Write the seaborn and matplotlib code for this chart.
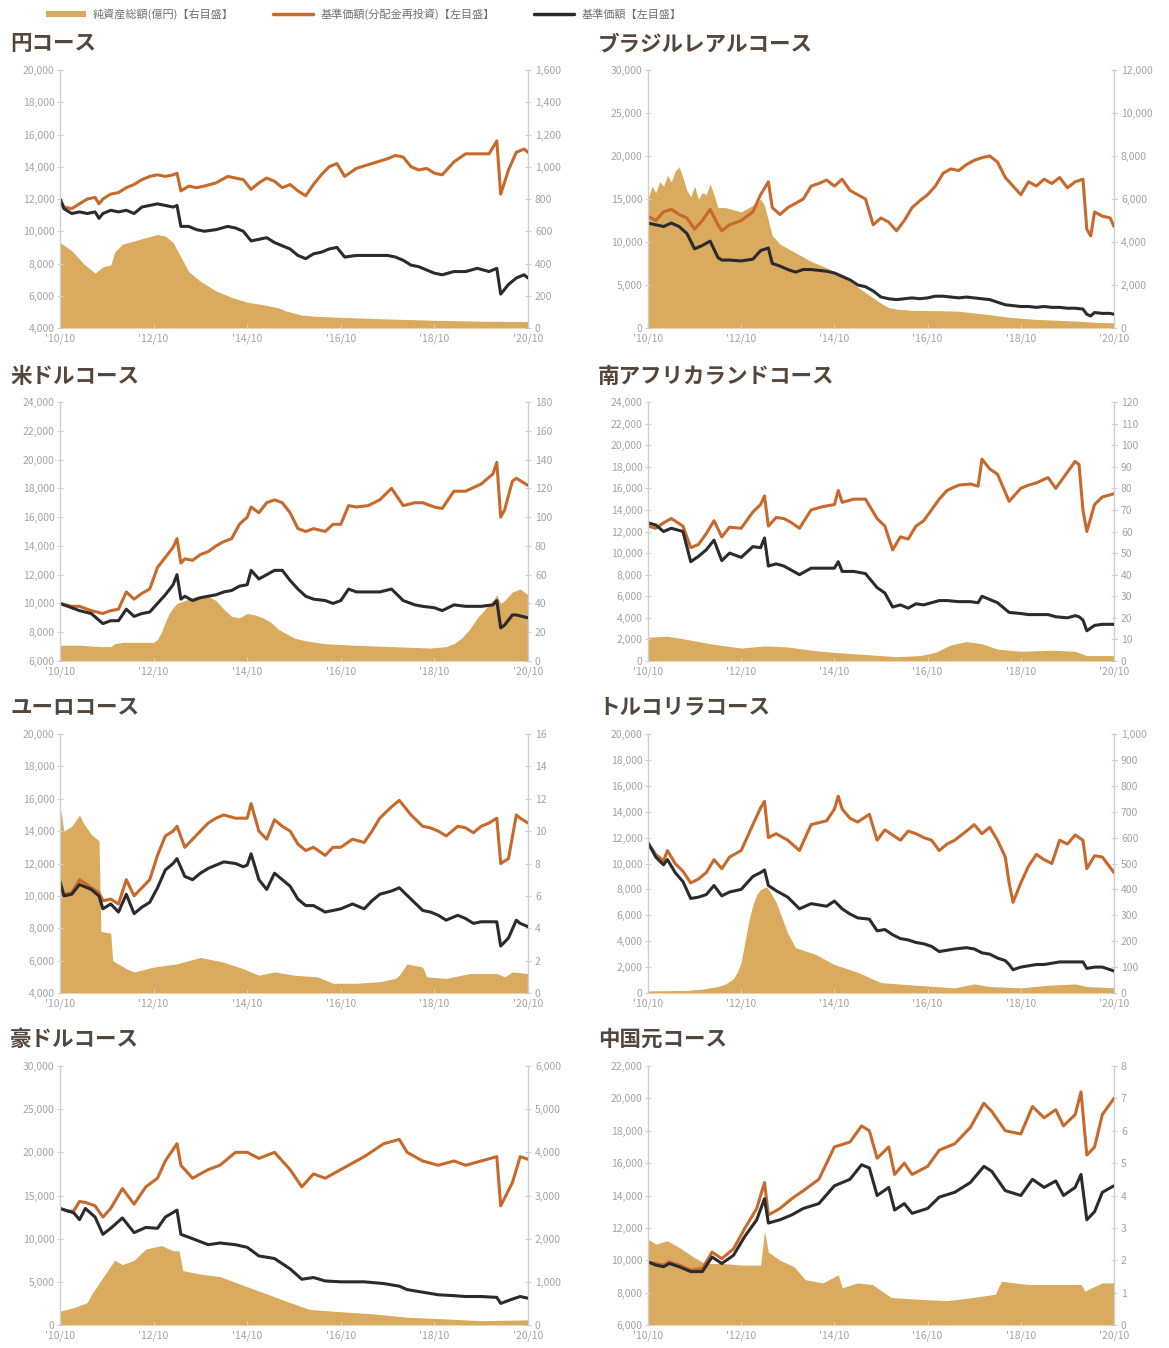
import matplotlib
matplotlib.use('Agg')
import matplotlib.pyplot as plt
import seaborn as sns
from matplotlib.ticker import FuncFormatter, MultipleLocator
from matplotlib.lines import Line2D
from matplotlib.patches import Patch

sns.set_theme(style='white')
plt.rcParams['font.family'] = ['Noto Sans CJK JP', 'DejaVu Sans']

# ---------------- data (months since 2010/10) ----------------
xtick_labels = ["'10/10", "'12/10", "'14/10", "'16/10", "'18/10", "'20/10"]
legend_labels = ['純資産総額(億円)【右目盛】', '基準価額(分配金再投資)【左目盛】', '基準価額【左目盛】']
titles = ['円コース', 'ブラジルレアルコース', '米ドルコース', '南アフリカランドコース',
          'ユーロコース', 'トルコリラコース', '豪ドルコース', '中国元コース']

# 円コース
yen_m = [0,1,3,5,7,9,10,11,13,15,17,19,21,23,25,27,29,30,31,33,35,37,40,43,45,47,49,51,53,55,57,59,61,63,65,67,69,71,73,76,80,84,86,88,90,92,94,96,98,101,104,107,110,112,113,115,117,119,120]
yen_navr = [12000,11500,11400,11700,12000,12100,11700,12000,12300,12400,12700,12900,13200,13400,13500,13400,13500,13600,12500,12800,12700,12800,13000,13400,13300,13200,12600,13000,13300,13100,12700,12900,12500,12200,12900,13500,14000,14200,13400,13900,14200,14500,14700,14600,14000,13800,13900,13600,13500,14300,14800,14800,14800,15600,12300,13800,14900,15100,14900]
yen_nav = [12000,11400,11100,11200,11100,11200,10800,11100,11300,11200,11300,11100,11500,11600,11700,11600,11500,11600,10300,10300,10100,10000,10100,10300,10200,10000,9400,9500,9600,9300,9100,8900,8500,8300,8600,8700,8900,9000,8400,8500,8500,8500,8400,8200,7900,7800,7600,7400,7300,7500,7500,7700,7500,7700,6100,6700,7100,7300,7100]
yen_aum_m = [0,3,6,9,11,13,14,16,19,22,25,27,29,31,33,36,40,44,48,52,56,58,62,66,72,84,96,108,120]
yen_aum = [530,480,400,340,380,390,470,520,540,560,580,570,530,440,350,290,230,190,160,145,125,105,80,72,66,56,48,42,40]

# ブラジルレアルコース
brl_m = [0,2,4,6,8,10,12,14,16,18,19,21,24,27,29,31,32,34,36,38,40,42,44,46,48,50,52,54,56,58,60,62,64,66,68,70,72,74,76,78,80,82,84,86,88,90,92,94,96,98,100,102,104,106,108,110,112,113,114,115,117,119,120]
brl_navr = [13000,12500,13500,13800,13200,12800,11500,12500,13800,12000,11300,12000,12500,13500,15500,17000,14000,13200,14000,14500,15000,16500,16800,17200,16500,17300,16000,15500,15000,12000,12800,12300,11300,12500,14000,14800,15500,16500,18000,18500,18300,19000,19500,19800,20000,19300,17500,16500,15500,17000,16500,17300,16800,17500,16300,17000,17300,11500,10700,13500,13000,12800,11800]
brl_nav = [12200,12000,11800,12200,11800,11000,9200,9600,10100,8200,7900,7900,7800,8000,9000,9300,7500,7200,6800,6500,6800,6800,6700,6600,6400,6000,5600,5000,4800,4300,3600,3400,3300,3400,3500,3400,3500,3700,3700,3600,3500,3600,3500,3400,3300,3000,2700,2600,2500,2500,2400,2500,2400,2400,2300,2300,2200,1600,1400,1800,1700,1700,1600]
brl_aum_m = [0,1,2,3,4,5,6,7,8,9,10,11,12,13,14,15,16,17,18,20,22,24,26,28,29,30,31,32,34,36,38,40,42,44,46,48,50,52,54,56,58,60,62,64,68,72,76,80,84,88,92,96,100,104,108,112,116,120]
brl_aum = [6000,6600,6300,6800,6600,7100,6800,7300,7500,7000,6400,6100,6600,6000,6300,6200,6700,6200,5600,5600,5500,5400,5600,5800,6000,5700,5000,4300,3900,3700,3500,3300,3100,2950,2800,2600,2400,2150,1900,1650,1400,1150,950,880,820,810,800,780,700,620,520,450,400,370,340,300,260,240]

# 米ドルコース
usd_m = [0,3,5,8,11,13,15,17,19,21,23,25,27,29,30,31,32,34,36,38,40,42,44,46,48,49,51,53,55,57,59,61,63,65,68,70,72,74,76,79,82,85,88,91,93,96,98,101,104,108,111,112,113,114,116,117,120]
usd_navr = [10000,9800,9800,9500,9300,9500,9600,10800,10300,10700,11000,12500,13200,13900,14500,12800,13100,13000,13400,13600,14000,14300,14500,15500,16000,16700,16300,17000,17200,17000,16300,15200,15000,15200,15000,15500,15500,16800,16700,16800,17200,18000,16800,17000,17000,16700,16600,17800,17800,18300,19000,19800,16000,16500,18500,18700,18200]
usd_nav = [10000,9700,9500,9300,8600,8800,8800,9600,9100,9300,9400,10000,10600,11300,12000,10300,10500,10200,10400,10500,10600,10800,10900,11200,11300,12300,11700,12000,12300,12300,11600,11000,10500,10300,10200,10000,10200,11000,10800,10800,10800,11000,10200,9900,9800,9700,9500,9900,9800,9800,9900,10200,8300,8500,9200,9200,9000]
usd_aum_m = [0,5,10,13,14,16,20,24,25,26,27,28,29,30,32,35,38,40,42,44,46,48,50,52,54,56,58,60,63,68,75,85,95,99,101,103,105,107,109,111,112,113,114,116,118,120]
usd_aum = [11,11,10,10,12,13,13,13,15,20,27,33,37,40,42,45,45,42,36,31,30,33,32,30,27,22,19,16,14,12,11,10,9,10,12,16,22,30,36,42,46,40,42,48,50,46]

# 南アフリカランドコース
zar_m = [0,2,4,6,9,11,13,15,17,19,21,24,27,29,30,31,33,35,37,39,42,45,48,49,50,53,56,59,61,63,65,67,69,71,73,75,77,80,83,85,86,88,90,93,96,98,100,103,105,108,110,111,112,113,115,117,120]
zar_navr = [12500,12300,12800,13200,12500,10500,10800,11800,13000,11500,12400,12300,13800,14500,15300,12500,13300,13200,12800,12300,14000,14300,14500,15800,14700,15000,15000,13200,12500,10300,11500,11300,12500,13000,14000,15000,15800,16300,16400,16200,18700,17800,17300,14800,16000,16300,16500,17000,16000,17500,18500,18200,14000,12000,14500,15200,15500]
zar_nav = [12800,12600,12000,12300,12000,9200,9700,10300,11200,9300,10000,9600,10600,10500,11400,8800,9000,8800,8400,8000,8600,8600,8600,9200,8300,8300,8100,6800,6300,5000,5200,4900,5300,5200,5400,5600,5600,5500,5500,5400,6000,5700,5400,4500,4400,4300,4300,4300,4100,4000,4200,4100,3800,2800,3300,3400,3400]
zar_aum_m = [0,5,10,16,24,30,36,42,48,56,64,70,74,78,82,86,90,96,104,110,113,120]
zar_aum = [11,11.5,10,8,6,7,6.5,5,4,3,2,2.5,4,7.5,9,8,5.5,4.5,5,4.5,2.5,2.5]

# ユーロコース
eur_m = [0,1,3,5,7,8,10,11,13,15,17,19,21,23,25,27,29,30,32,34,36,38,40,42,45,47,48,49,51,53,55,57,59,61,63,65,68,70,72,75,78,80,82,85,87,90,93,95,97,99,102,104,106,108,110,112,113,115,117,118,120]
eur_navr = [10800,10100,10200,11000,10700,10500,10200,9700,9800,9500,11000,10000,10500,11000,12500,13700,14000,14300,13000,13500,14000,14500,14800,15000,14800,14800,14800,15700,14000,13500,14700,14300,14000,13200,12800,13000,12500,13000,13000,13500,13300,14000,14800,15500,15900,15000,14300,14200,14000,13700,14300,14200,13900,14300,14500,14800,12000,12300,15000,14800,14500]
eur_nav = [10900,10000,10100,10700,10500,10400,10000,9200,9500,9000,10100,8900,9300,9600,10500,11600,12000,12300,11200,11000,11400,11700,11900,12100,12000,11800,11900,12600,11000,10400,11400,11000,10600,9800,9400,9400,9000,9100,9200,9500,9200,9700,10100,10300,10500,9800,9100,9000,8800,8500,8800,8600,8300,8400,8400,8400,6900,7400,8500,8300,8100]
eur_aum_m = [0,1,3,5,6,8,10,10.5,13,13.5,17,19,24,30,36,42,47,51,55,60,66,70,76,82,86,87,89,93,94,99,105,112,114,116,120]
eur_aum = [11.6,10,10.3,11,10.5,9.8,9.4,3.8,3.7,2,1.5,1.3,1.6,1.8,2.2,1.9,1.5,1.1,1.3,1.1,1.0,0.6,0.6,0.7,0.9,1.1,1.8,1.6,1.0,0.9,1.2,1.2,1.0,1.3,1.2]

# トルコリラコース
try_m = [0,2,4,5,7,9,11,13,15,17,19,21,24,27,29,30,31,33,36,39,42,46,48,49,50,52,54,57,59,61,63,65,67,69,71,73,75,77,79,82,84,86,88,90,92,93,94,96,98,100,102,104,106,108,110,112,113,115,117,120]
try_navr = [11600,10700,10200,11000,10000,9400,8500,8800,9300,10300,9600,10500,11000,13000,14300,14800,12000,12300,11800,11000,13000,13300,14200,15200,14200,13500,13200,13800,11800,12600,12200,11800,12500,12300,12000,11800,11000,11500,11800,12500,13000,12300,12800,11800,10500,8500,7000,8500,9800,10700,10300,10000,11800,11500,12200,11800,9600,10600,10500,9300]
try_nav = [11600,10500,9900,10300,9300,8600,7300,7400,7600,8300,7500,7800,8000,9000,9300,9500,8300,7900,7400,6500,6900,6700,7100,6800,6500,6100,5800,5700,4800,4900,4500,4200,4100,3900,3800,3600,3200,3300,3400,3500,3400,3100,3000,2700,2500,2200,1800,2000,2100,2200,2200,2300,2400,2400,2400,2400,1900,2000,2000,1700]
try_aum_m = [0,10,14,18,20,22,23,24,25,26,27,28,29,30.5,31.5,33,36,38,40,43,48,54,60,69,79,84,88,96,103,110,113,120]
try_aum = [8,10,15,25,35,55,80,120,200,280,340,380,400,410,390,350,230,175,165,150,110,80,40,30,20,35,25,20,30,35,25,20]

# 豪ドルコース
aud_m = [0,2,3.5,5,6.5,9,11,13,16,19,22,25,27,30,31,34,38,41,45,48,51,55,59,62,65,68,72,78,83,87,89,93,97,101,104,108,112,113,116,118,120]
aud_navr = [13500,13200,13200,14300,14200,13800,12500,13500,15800,14000,16000,17000,19000,21000,18500,17000,18000,18500,20000,20000,19300,20000,18000,16000,17500,17000,18000,19500,21000,21500,20000,19000,18500,19000,18500,19000,19500,13800,16500,19500,19200]
aud_nav = [13500,13200,13000,12200,13500,12500,10500,11200,12400,10700,11300,11200,12500,13300,10500,10000,9300,9500,9300,9000,8000,7700,6500,5300,5500,5100,5000,5000,4800,4500,4100,3800,3500,3400,3300,3300,3200,2500,3000,3300,3100]
aud_aum_m = [0,3.5,7,8,11,14,16,19,22,26,29,30.5,31.5,36,41,47,53,59,64,70,80,89,99,108,120]
aud_aum = [320,400,520,700,1100,1500,1400,1500,1760,1840,1720,1720,1260,1180,1120,920,720,520,360,320,260,180,140,100,120]

# 中国元コース
cny_m = [0,2,4,5.5,8,11,14,16.5,19,22,25,28,30,31,34,37,40,44,48,52,55,57,59,62,63.5,66,68,72,75,79,83,86.5,88.5,92,96,99,102,105,107,110,111.5,113,115,117,120]
cny_navr = [9900,9800,9700,9900,9700,9400,9500,10500,10100,10700,12000,13200,14800,12800,13200,13800,14300,15000,17000,17300,18300,18000,16300,17000,15300,16000,15300,15800,16800,17200,18200,19700,19200,18000,17800,19500,18800,19300,18300,19000,20400,16500,17000,19000,20000]
cny_nav = [9900,9700,9600,9800,9600,9300,9300,10200,9800,10300,11500,12500,13800,12300,12500,12800,13200,13500,14600,15000,15900,15700,14000,14500,13100,13500,12900,13200,13900,14200,14800,15800,15500,14300,14000,15000,14500,14900,14000,14500,15300,12500,13000,14200,14600]
cny_aum_m = [0,2,5,8,11.7,14.6,19.4,24,29,30,31,34,37.6,40.5,45,49,50,54,57.8,62.6,69,77,83.7,89.4,91,98,104,111.5,112.5,117,120]
cny_aum = [2.65,2.5,2.6,2.4,2.1,1.9,1.9,1.85,1.85,2.9,2.25,2.0,1.8,1.4,1.3,1.55,1.15,1.3,1.25,0.85,0.8,0.75,0.85,0.95,1.35,1.25,1.25,1.25,1.05,1.3,1.3]

# axis ranges (lo, hi, step)
left_axes = [(4000, 20000, 2000), (0, 30000, 5000), (6000, 24000, 2000), (0, 24000, 2000),
             (4000, 20000, 2000), (0, 20000, 2000), (0, 30000, 5000), (6000, 22000, 2000)]
right_axes = [(0, 1600, 200), (0, 12000, 2000), (0, 180, 20), (0, 120, 10),
              (0, 16, 2), (0, 1000, 100), (0, 6000, 1000), (0, 8, 1)]

series = [
    (yen_m, yen_navr, yen_nav, yen_aum_m, yen_aum),
    (brl_m, brl_navr, brl_nav, brl_aum_m, brl_aum),
    (usd_m, usd_navr, usd_nav, usd_aum_m, usd_aum),
    (zar_m, zar_navr, zar_nav, zar_aum_m, zar_aum),
    (eur_m, eur_navr, eur_nav, eur_aum_m, eur_aum),
    (try_m, try_navr, try_nav, try_aum_m, try_aum),
    (aud_m, aud_navr, aud_nav, aud_aum_m, aud_aum),
    (cny_m, cny_navr, cny_nav, cny_aum_m, cny_aum),
]

# ---------------- style ----------------
GOLD = '#DAAA5F'
ORANGE = '#C8692C'
BLACK = '#2B2B2B'
TITLE_C = '#54463A'
TICK_C = '#A3A3A3'
SPINE_C = '#CFCFCF'

W, H = 1169, 1348
fig = plt.figure(figsize=(W / 100, H / 100), dpi=100)

col_x = [(60, 528), (648, 1114)]
row_y = [(70, 328), (402, 661), (734, 993), (1066, 1325)]
title_y = [44, 376, 707, 1039]
title_x = [10, 598]

fmt = FuncFormatter(lambda v, p: f'{v:,.0f}')

for i, (m, navr, nav, am, aum) in enumerate(series):
    r, c = divmod(i, 2)
    x0, x1 = col_x[c]
    y0, y1 = row_y[r]
    ax = fig.add_axes([x0 / W, 1 - y1 / H, (x1 - x0) / W, (y1 - y0) / H])
    ax2 = ax.twinx()

    ax2.fill_between(am, aum, 0, color=GOLD, lw=0)
    rlo, rhi, rst = right_axes[i]
    ax2.set_ylim(rlo, rhi)
    ax2.yaxis.set_major_locator(MultipleLocator(rst))
    ax2.yaxis.set_major_formatter(fmt)

    sns.lineplot(x=m, y=navr, ax=ax, color=ORANGE, lw=2.2, estimator=None, sort=False)
    sns.lineplot(x=m, y=nav, ax=ax, color=BLACK, lw=2.2, estimator=None, sort=False)
    lo, hi, st = left_axes[i]
    ax.set_ylim(lo, hi)
    ax.yaxis.set_major_locator(MultipleLocator(st))
    ax.yaxis.set_major_formatter(fmt)
    ax.set_xlim(0, 120)
    ax.set_xticks([0, 24, 48, 72, 96, 120])
    ax.set_xticklabels(xtick_labels)
    ax.set_xlabel('')
    ax.set_ylabel('')

    ax.set_zorder(ax2.get_zorder() + 1)
    ax.patch.set_visible(False)

    for a in (ax, ax2):
        for s in a.spines.values():
            s.set_visible(False)
        a.grid(False)
    ax.spines['left'].set_visible(True)
    ax.spines['left'].set_color(SPINE_C)
    ax.spines['left'].set_linewidth(1.0)
    ax2.spines['right'].set_visible(True)
    ax2.spines['right'].set_color(SPINE_C)
    ax2.spines['right'].set_linewidth(1.0)

    ax.tick_params(axis='y', left=True, direction='inout', length=4, width=0.8,
                   color=SPINE_C, labelsize=7.5, labelcolor=TICK_C, pad=2)
    ax.tick_params(axis='x', bottom=True, direction='in', length=3, width=0.8,
                   color=SPINE_C, labelsize=7.5, labelcolor=TICK_C, pad=4)
    ax2.tick_params(axis='y', right=True, direction='inout', length=4, width=0.8,
                    color=SPINE_C, labelsize=7.5, labelcolor=TICK_C, pad=3)

    fig.text(title_x[c] / W, 1 - title_y[r] / H, titles[i], fontsize=15.5,
             fontweight='bold', color=TITLE_C, ha='left', va='center')

handles = [Patch(facecolor=GOLD, edgecolor='none'),
           Line2D([0], [0], color=ORANGE, lw=2.5),
           Line2D([0], [0], color=BLACK, lw=2.5)]
fig.legend(handles, legend_labels, loc='center left', bbox_to_anchor=(38 / W, 1 - 14 / H),
           ncol=3, frameon=False, fontsize=8.0, handlelength=3.6, handleheight=0.4,
           columnspacing=3.6, handletextpad=0.6, labelcolor='#707070',
           borderpad=0.2)

fig.savefig('out.png', dpi=100)
